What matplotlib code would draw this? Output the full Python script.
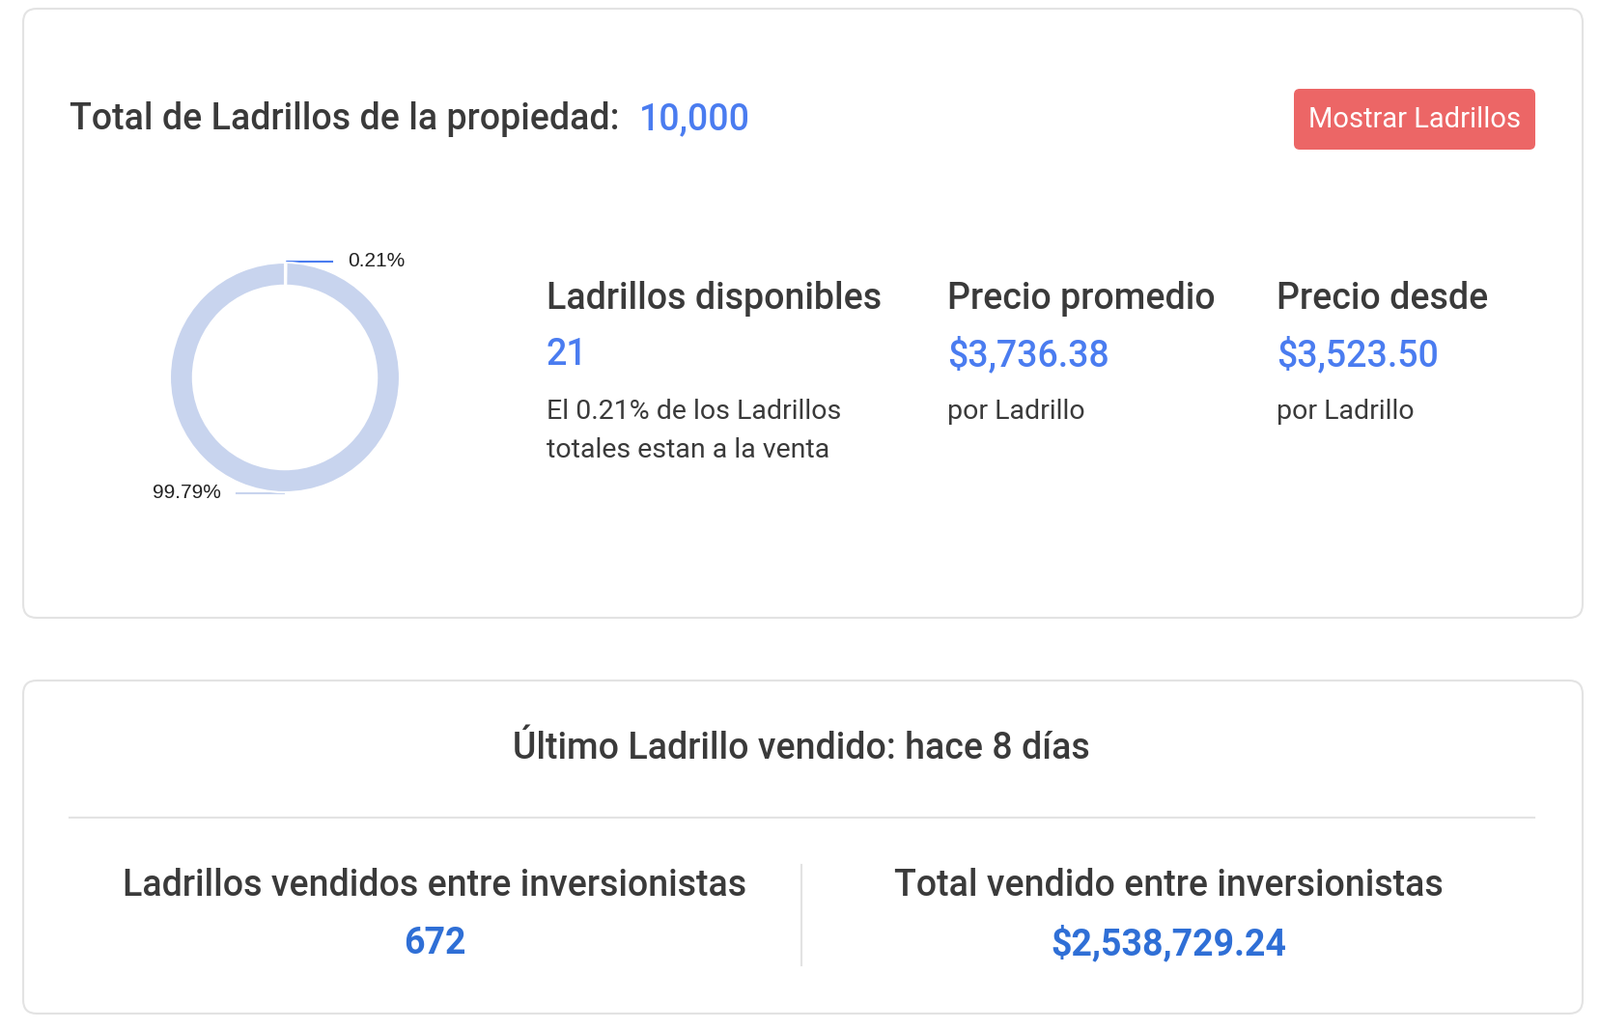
import matplotlib
matplotlib.use("Agg")
import matplotlib.pyplot as plt
from matplotlib.patches import FancyBboxPatch

# data
slice_labels = ["Disponibles", "Vendidos"]
slice_values = [21, 9979]
slice_pct_labels = ["0.21%", "99.79%"]
total_bricks = "10,000"
stat_titles = ["Ladrillos disponibles", "Precio promedio", "Precio desde"]
stat_values = ["21", "$3,736.38", "$3,523.50"]
stat_notes = ["El 0.21% de los Ladrillos\ntotales estan a la venta", "por Ladrillo", "por Ladrillo"]
sold_titles = ["Ladrillos vendidos entre inversionistas", "Total vendido entre inversionistas"]
sold_values = ["672", "$2,538,729.24"]

W, H = 1658, 1066
fig = plt.figure(figsize=(W/100, H/100), dpi=100)
bg = fig.add_axes([0, 0, 1, 1])
bg.set_xlim(0, W); bg.set_ylim(H, 0); bg.axis("off")

FONT = "Roboto"
DARK = "#3a3a3a"
BLUE = "#4a7cf0"
BLUE2 = "#2f6fd6"
HS = 27

for (x0, y0, x1, y1) in [(24, 9, 1639, 640), (24, 705, 1639, 1050)]:
    bg.add_patch(FancyBboxPatch((x0, y0), x1-x0, y1-y0, boxstyle="round,pad=0,rounding_size=14",
                                fc="white", ec="#e3e3e3", lw=1.5))

bg.text(72, 124, "Total de Ladrillos de la propiedad:", fontsize=HS, fontfamily=FONT,
        fontweight="semibold", color=DARK, va="center")
bg.text(662, 124, total_bricks, fontsize=HS, fontfamily=FONT, fontweight="semibold", color=BLUE, va="center")

# button
bg.add_patch(FancyBboxPatch((1340, 92), 250, 63, boxstyle="round,pad=0,rounding_size=6",
                            fc="#ec6666", ec="none"))
bg.text(1465, 124, "Mostrar Ladrillos", fontsize=21, fontfamily=FONT, color="white",
        ha="center", va="center")

# donut
cx, cy, R = 295, 391, 119
ax = fig.add_axes([(cx-R)/W, 1-(cy+R)/H, 2*R/W, 2*R/H])
ax.pie(slice_values, colors=["#ffffff", "#c8d4ee"], startangle=90, counterclock=False,
       radius=1, wedgeprops=dict(width=0.2, edgecolor="white", linewidth=1.5))
ax.set_aspect("equal"); ax.set_xlim(-1, 1); ax.set_ylim(-1, 1)
bg.plot([297, 297, 344], [279, 271, 271], color=BLUE, lw=1.5)
bg.text(360, 271, slice_pct_labels[0], fontsize=15, fontfamily="Liberation Sans", color="#222", va="center")
bg.plot([245, 294], [511, 511], color="#c8d4ee", lw=1.5)
bg.text(229, 511, slice_pct_labels[1], fontsize=15, fontfamily="Liberation Sans", color="#222",
        va="center", ha="right")

xs = [566, 981, 1322]
for x, t, v, n in zip(xs, stat_titles, stat_values, stat_notes):
    bg.text(x, 309, t, fontsize=HS, fontfamily=FONT, fontweight="semibold", color=DARK, va="center")
    bg.text(x, 368, v, fontsize=HS, fontfamily=FONT, fontweight="semibold", color=BLUE, va="center")
    bg.text(x, 426, n.split("\n")[0], fontsize=20.5, fontfamily=FONT, color=DARK, va="center")
    if "\n" in n:
        bg.text(x, 466, n.split("\n")[1], fontsize=20.5, fontfamily=FONT, color=DARK, va="center")

bg.text(830, 776, "Último Ladrillo vendido: hace 8 días", fontsize=HS, fontfamily=FONT,
        fontweight="semibold", color=DARK, ha="center", va="center")
bg.plot([72, 1589], [847, 847], color="#e3e3e3", lw=1.5)
bg.plot([830, 830], [896, 1000], color="#e3e3e3", lw=1.5)
for x, t, v in zip([450, 1210], sold_titles, sold_values):
    bg.text(x, 917, t, fontsize=HS, fontfamily=FONT, fontweight="semibold", color=DARK, ha="center", va="center")
    bg.text(x, 978, v, fontsize=HS, fontfamily=FONT, fontweight="bold", color=BLUE2, ha="center", va="center")

fig.savefig("out.png", dpi=100, facecolor="white")
